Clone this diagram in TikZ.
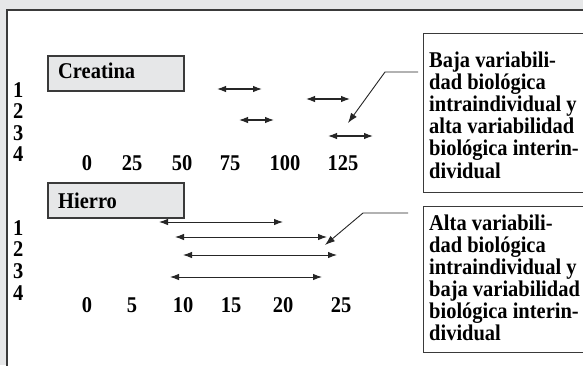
\documentclass[tikz,border=0pt]{standalone}
\usepackage{fontspec}
\setmainfont{Liberation Serif}[FakeStretch=0.91]
\usetikzlibrary{arrows.meta}
\definecolor{bggray}{HTML}{E6E7E8}
\definecolor{edge}{HTML}{3A3A3A}
\begin{document}
\begin{tikzpicture}[x=1pt,y=-1pt,
  txt/.style={font=\fontsize{22.5}{22}\selectfont\bfseries, inner sep=0pt, text=black},
  lab/.style={txt, anchor=base west},
  tick/.style={txt, anchor=base},
  titlebox/.style={draw=edge, line width=1.8pt, fill=bggray, minimum width=136pt, minimum height=35pt, inner sep=0pt},
  notebox/.style={draw=edge, line width=1pt},
  span/.style={{Latex[length=9pt,width=6.5pt]}-{Latex[length=9pt,width=6.5pt]}, line width=1.1pt, draw=black!85},
  lead/.style={-{Latex[length=10pt,width=7pt]}, line width=0.9pt, draw=black!85}]
\useasboundingbox (0,0) rectangle (583,365);
\begin{scope}
\clip (0,0) rectangle (583,365);
% background and white panel
\fill[bggray] (0,0) rectangle (583,365);
\fill[white] (7,9.5) rectangle (600,380);
\draw[edge, line width=2pt] (7,380) -- (7,9.5) -- (600,9.5);

% ---------- Creatina ----------
\node[titlebox] (cbox) at (116,73.5) {};
\node[lab] (ctitle) at (58,78) {Creatina};
\foreach \n/\yy in {1/97,2/118.5,3/140,4/161}
  \node[lab] (crow\n) at (13,\yy) {\n};
\foreach \v/\xx [count=\i] in {0/87,25/132,50/182,75/230,100/285,125/343}
  \node[tick] (cax\i) at (\xx,170) {\v};

\coordinate (ca1) at (217,89);  \coordinate (cb1) at (262,89);
\coordinate (ca2) at (306,99);  \coordinate (cb2) at (350,99);
\coordinate (ca3) at (239,120); \coordinate (cb3) at (274,120);
\coordinate (ca4) at (328,136); \coordinate (cb4) at (373,136);
\foreach \i in {1,2,3,4} \draw[span] (ca\i) -- (cb\i);

% note box 1
\draw[notebox] (423,33) rectangle (600,192);
\foreach \t [count=\i] in {Baja variabili-,dad biológica,intraindividual y,alta variabilidad,biológica interin-,dividual}
  \node[lab] (nota\i) at (429,{67+22.2*(\i-1)}) {\t};
\coordinate (l1s) at (418,72);
\coordinate (l1k) at (385,72);
\coordinate (l1e) at (348,123);
\draw[lead] (l1s) -- (l1k) -- (l1e);

% ---------- Hierro ----------
\node[titlebox] (hbox) at (116,200.5) {};
\node[lab] (htitle) at (58,208) {Hierro};
\foreach \n/\yy in {1/235,2/256,3/278,4/300}
  \node[lab] (hrow\n) at (13,\yy) {\n};
\foreach \v/\xx [count=\i] in {0/87,5/132,10/183,15/231,20/283,25/341}
  \node[tick] (hax\i) at (\xx,312) {\v};

\coordinate (ha1) at (159,222); \coordinate (hb1) at (283,222);
\coordinate (ha2) at (175,237); \coordinate (hb2) at (327,237);
\coordinate (ha3) at (183,255); \coordinate (hb3) at (337,255);
\coordinate (ha4) at (170,277); \coordinate (hb4) at (322,277);
\foreach \i in {1,2,3,4} \draw[span, line width=0.9pt] (ha\i) -- (hb\i);

% note box 2
\draw[notebox] (423,206) rectangle (600,352);
\foreach \t [count=\i] in {Alta variabili-,dad biológica,intraindividual y,baja variabilidad,biológica interin-,dividual}
  \node[lab] (notb\i) at (429,{230+22*(\i-1)}) {\t};
\coordinate (l2s) at (408,213);
\coordinate (l2k) at (363,213);
\coordinate (l2e) at (325,245);
\draw[lead] (l2s) -- (l2k) -- (l2e);
\end{scope}
\end{tikzpicture}
\end{document}
